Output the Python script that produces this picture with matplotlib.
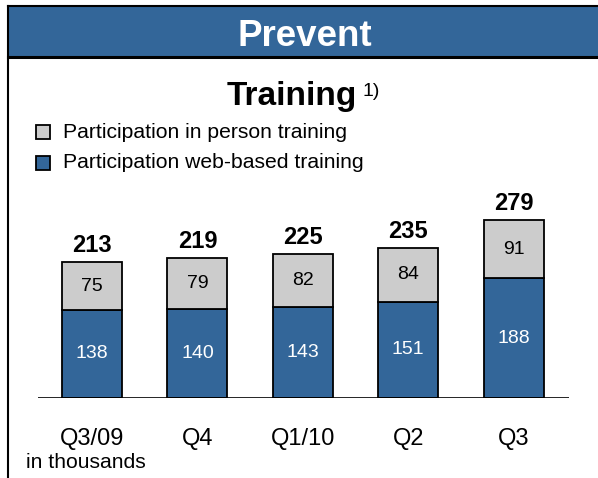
import matplotlib.pyplot as plt
from matplotlib.patches import Rectangle
from matplotlib.lines import Line2D
import numpy as np

plt.rcParams['font.family'] = ['Liberation Sans', 'DejaVu Sans']

# Data (in thousands)
quarters = ['Q3/09', 'Q4', 'Q1/10', 'Q2', 'Q3']
web_based = [138, 140, 143, 151, 188]
in_person = [75, 79, 82, 84, 91]
totals = [w + p for w, p in zip(web_based, in_person)]

blue = '#336699'
grey = '#CCCCCC'

W, H = 598, 478
fig = plt.figure(figsize=(W / 100, H / 100), dpi=100)

def fx(px):
    return px / W

def fy(py):
    return 1 - py / H

# header band and frame
fig.add_artist(Rectangle((fx(8), fy(57)), 1 - fx(8), fy(6) - fy(57),
                         facecolor=blue, edgecolor='none', transform=fig.transFigure))
fig.add_artist(Line2D([fx(8), 1], [fy(6), fy(6)], color='black', lw=1.5, transform=fig.transFigure))
fig.add_artist(Line2D([fx(8), 1], [fy(57), fy(57)], color='black', lw=2.2, transform=fig.transFigure))
fig.add_artist(Line2D([fx(8), fx(8)], [fy(6), 0], color='black', lw=1.5, transform=fig.transFigure))
fig.text(fx(305), fy(46), 'Prevent', color='white', fontsize=26.5, fontweight='bold',
         ha='center', va='baseline')

# title
fig.text(fx(227), fy(105), 'Training', fontsize=24, fontweight='bold', ha='left', va='baseline')
fig.text(fx(362), fy(96), '1)', fontsize=14, ha='left', va='baseline')

# legend
for py, col, lab in [(132, grey, 'Participation in person training'),
                     (163, blue, 'Participation web-based training')]:
    fig.add_artist(Rectangle((fx(36), fy(py + 7)), fx(14), fy(py - 7) - fy(py + 7),
                             facecolor=col, edgecolor='black', lw=1.3, transform=fig.transFigure))
    fig.text(fx(63), fy(py), lab, fontsize=15.2, ha='left', va='center')

# bar chart axes: baseline at pixel y=398, 0.638 px per unit
ax_left, ax_right = 38, 569
base_py, top_py = 398, 180
ax = fig.add_axes([fx(ax_left), fy(base_py), fx(ax_right - ax_left), (base_py - top_py) / H])
scale = 0.638
ax.set_ylim(0, (base_py - top_py) / scale)
x = np.arange(len(quarters))
spacing = 105.4
ax.set_xlim(-(92 - ax_left) / spacing, (ax_right - 92) / spacing)
ax.axis('off')

bw = 60 / spacing
ax.bar(x, web_based, bw, color=blue, edgecolor='black', lw=1.3)
ax.bar(x, in_person, bw, bottom=web_based, color=grey, edgecolor='black', lw=1.3)
ax.axhline(0, color='black', lw=1.2)

for i in range(len(x)):
    ax.text(x[i], web_based[i] / 2, str(web_based[i]), color='white', fontsize=14,
            ha='center', va='center')
    ax.text(x[i], web_based[i] + in_person[i] / 2, str(in_person[i]), color='black', fontsize=14,
            ha='center', va='center')
    ax.text(x[i], totals[i] + 16, str(totals[i]), color='black', fontsize=17,
            fontweight='bold', ha='center', va='baseline')
    ax.text(x[i], -64, quarters[i], fontsize=17, ha='center', va='center')

fig.text(fx(86), fy(462), 'in thousands', fontsize=15.2, ha='center', va='center')

fig.savefig('out.png', dpi=100, facecolor='white')
